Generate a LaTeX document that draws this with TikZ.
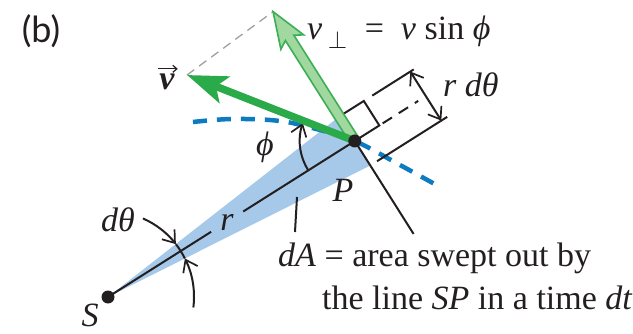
\documentclass[tikz,border=0pt]{standalone}
\usepackage{fontspec}
\setmainfont{Liberation Serif}
\newfontfamily\labelsans{Lato}
\usetikzlibrary{arrows.meta,calc}
\definecolor{vgreen}{RGB}{43,170,74}
\definecolor{vlight}{RGB}{160,216,160}
\definecolor{vlightdraw}{RGB}{60,175,85}
\definecolor{wedgeblue}{RGB}{166,201,234}
\definecolor{orbitblue}{RGB}{12,123,192}
\definecolor{ink}{RGB}{35,31,32}
\definecolor{guide}{RGB}{160,160,160}
\begin{document}
\begin{tikzpicture}[x=1pt,y=1pt,
  thinline/.style={draw=ink,line width=2pt},
  barb/.style={-{Straight Barb[length=11pt,width=16pt,line width=1.7pt]}},
  dimarrow/.style={{Straight Barb[length=11pt,width=16pt,line width=1.7pt]}-{Straight Barb[length=11pt,width=16pt,line width=1.7pt]}},
  lbl/.style={inner sep=0pt,text=ink,font=\fontsize{34}{40}\selectfont}]
\useasboundingbox (0,0) rectangle (633,333);
% key points
\coordinate (S) at (108,36);
\coordinate (P) at ($(S)+(32.3:292)$);
\coordinate (Q1) at ($(P)+(122.3:29)$);
\coordinate (Q2) at ($(P)+(-57.7:29)$);
\coordinate (Q1a) at ($(Q1)+(32.3:29)$);
\coordinate (Pa) at ($(P)+(32.3:29)$);
\coordinate (Pd) at ($(P)+(32.3:75)$);
\coordinate (U1) at ($(Q1)+(32.3:39)$);
\coordinate (U2) at ($(Q1)+(32.3:88)$);
\coordinate (L1) at ($(Q2)+(32.3:8)$);
\coordinate (L2) at ($(Q2)+(32.3:91)$);
\coordinate (A1) at ($(Q1)+(32.3:84)$);
\coordinate (A2) at ($(Q2)+(32.3:84)$);
\coordinate (Pend) at ($(P)+(-57.7:110)$);
\coordinate (vtip) at (187,258);
\coordinate (vptip) at ($(P)+(122.3:153)$);
\coordinate (r1) at ($(S)+(32.3:122)$);
\coordinate (r2) at ($(S)+(32.3:160)$);
\coordinate (dA1) at (297,136);
\coordinate (dA2) at (295,101);
% wedge
\fill[wedgeblue] (S) -- (Q1) -- (Q2) -- cycle;
% orbit
\draw[orbitblue, line width=4.5pt, dash pattern=on 14pt off 10pt]
  plot[smooth, tension=0.6] coordinates {(193,211) (232,214) (280,212) (320,203) (355,192) (400,168) (440,146)};
% black construction lines
\draw[thinline] (S) -- (r1);
\draw[thinline] (r2) -- (P);
\draw[thinline] (Q1) -- (Pend);
\draw[thinline] (Q1) -- (Q1a) -- (Pa) -- (P);
\draw[thinline, dash pattern=on 11pt off 8pt, dash phase=15pt] (Pa) -- (Pd);
\draw[thinline] (U1) -- (U2);
\draw[thinline] (L1) -- (L2);
\draw[thinline, dimarrow] (A1) -- (A2);
\draw[thinline] (dA1) -- (dA2);
% angle arcs
\draw[thinline, barb] ($(P)+(212.3:55)$) arc[start angle=212.3, end angle=161, radius=55];
\draw[thinline, barb] ($(S)+(66:86)$) arc[start angle=66, end angle=37.9, radius=86];
\draw[thinline] ($(S)+(37.9:86)$) arc[start angle=37.9, end angle=26.6, radius=86];
\draw[thinline, barb] ($(S)+(-7:86)$) arc[start angle=-7, end angle=26.6, radius=86];
% guide
\draw[guide, line width=1.3pt, dash pattern=on 9pt off 6pt] (vtip) -- (vptip);
% v perp arrow
\begin{scope}[shift={(P)}, rotate=122.3]
\filldraw[fill=vlight, draw=vlightdraw, line width=1.6pt]
  (0,-5) -- (122,-5) -- (117,-13.5) -- (153,0) -- (117,13.5) -- (122,5) -- (0,5) -- cycle;
\end{scope}
% v arrow
\draw[vgreen, line width=7.5pt, -{Stealth[length=40pt,width=28pt,inset=9pt]}] (P) -- (vtip);
% dots
\fill[ink] (P) circle (6.5);
\fill[ink] (S) circle (6.5);
% labels
\node[lbl] (lb) at (41,302) {\labelsans\fontsize{36}{40}\selectfont (b)};
\node[lbl, anchor=west] (lvp) at (307,301) {\textit{v}\,$_{\perp}$\ \ =\ \ \textit{v}\ sin\ \textit{ϕ}};
\node[lbl] (lv) at (167,251) {\bfseries\itshape v};
\draw[ink, line width=1.3pt, -{Straight Barb[length=4pt,width=7pt,line width=1.2pt]}]
  ($(lv.north west)+(-1,5)$) -- ($(lv.north east)+(3,5)$);
\node[lbl, anchor=west] (lrd) at (443,248) {\textit{r dθ}};
\node[lbl] (lphi) at (265,186) {\textit{ϕ}};
\node[lbl] (ldt) at (118,113) {\textit{dθ}};
\node[lbl] (lr) at (227,111) {\textit{r}};
\node[lbl] (lP) at (343,143) {\textit{P}};
\node[lbl] (lS) at (90,18) {\textit{S}};
\node[lbl, anchor=west] (l1) at (278,75) {\textit{dA}\ =\ area swept out by};
\node[lbl, anchor=west] (l2) at (322,35) {the line \textit{SP} in a time \textit{dt}};
\end{tikzpicture}
\end{document}
